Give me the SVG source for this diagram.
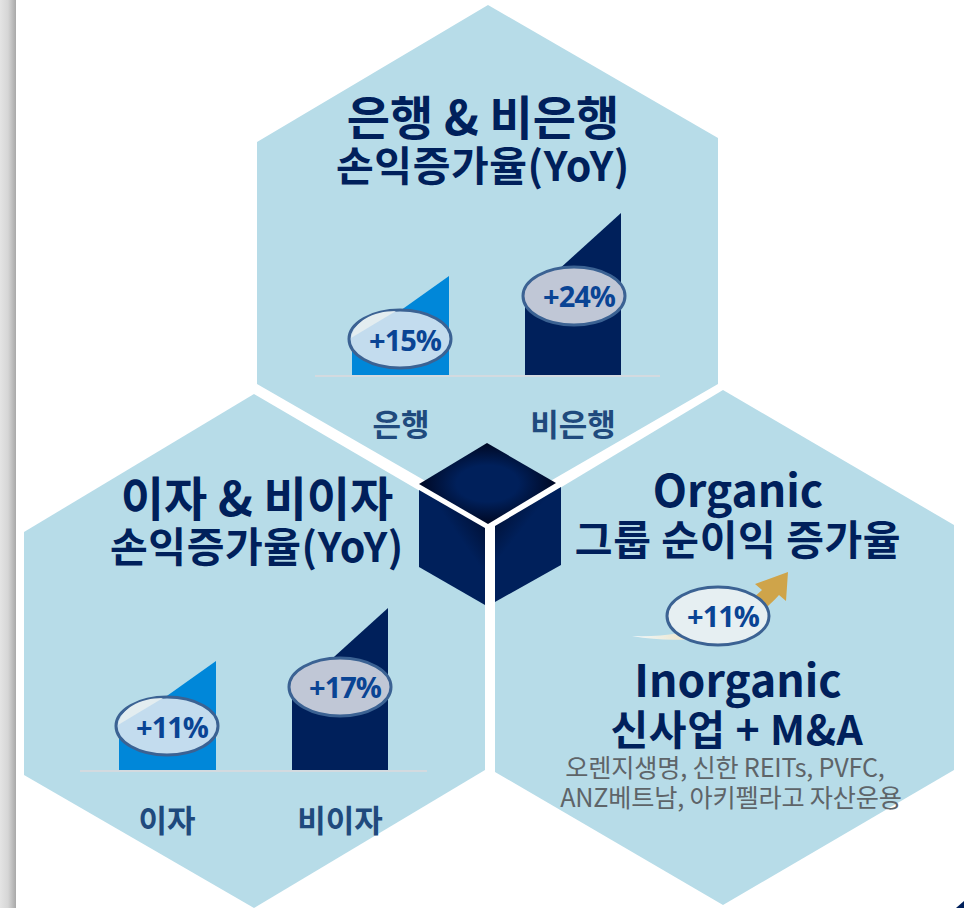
<svg xmlns="http://www.w3.org/2000/svg" width="964" height="908" viewBox="0 0 964 908">
<style>
.hex{fill:#b7dce8}
text{font-family:"Noto Sans CJK KR","Noto Sans",sans-serif;text-anchor:middle}
.h1{font-weight:700;fill:#00205b;font-size:47px}
.h2{font-weight:700;fill:#00205b;font-size:41px;letter-spacing:.6px}
.lat{font-size:44.5px}
.cat{font-weight:700;fill:#1f4a7d;font-size:31px}
.pct{font-family:"Open Sans","Noto Sans",sans-serif;font-weight:700;fill:#0a4494;font-size:29px;letter-spacing:-1px}
.pill{stroke:#3b6293;stroke-width:3}
.base{stroke:#d3dadf;stroke-width:2}
.navy{fill:#00205b}
.blue{fill:#0087d9}
.sub{fill:#5e6468;font-size:25.2px;letter-spacing:-.2px}
</style>
<defs>
<linearGradient id="side" x1="0" y1="0" x2="1" y2="0"><stop offset="0" stop-color="#e4e4e4"/><stop offset=".5" stop-color="#d6d6d6"/><stop offset="1" stop-color="#a8a8a8"/></linearGradient>
<radialGradient id="top" cx=".5" cy=".5" r=".5"><stop offset=".45" stop-color="#00205b"/><stop offset="1" stop-color="#000823"/></radialGradient>
<linearGradient id="lf" x1=".95" y1="0" x2=".5" y2=".55"><stop offset="0" stop-color="#000823"/><stop offset=".75" stop-color="#00205b"/></linearGradient>
<linearGradient id="rf" x1=".05" y1="0" x2=".45" y2=".55"><stop offset="0" stop-color="#000823"/><stop offset=".75" stop-color="#00205b"/></linearGradient>
<linearGradient id="arrow" gradientUnits="userSpaceOnUse" x1="632" y1="638" x2="788" y2="575"><stop offset="0" stop-color="#fff" stop-opacity=".8"/><stop offset=".45" stop-color="#e8d9ae"/><stop offset=".8" stop-color="#cfa44a"/></linearGradient>
</defs>
<rect width="964" height="908" fill="#fff"/>
<rect width="16" height="908" fill="url(#side)"/>
<g id="node-top"><polygon class="hex" points="488,5 718,138 718,384 488,517 257,384 257,142"/>
<text class="h1" x="483" y="135">은행 &amp; 비은행</text>
<text class="h2" x="483" y="181">손익증가율(YoY)</text>
<polygon class="blue" points="352,375 352,345 449,276 449,375"/>
<polygon class="navy" points="525,375 525,300 621,213 621,375"/>
<line class="base" x1="315" y1="376" x2="660" y2="376"/>
<ellipse class="pill" cx="400" cy="339" rx="51" ry="29" fill="#c3dcee"/>
<path d="M351 338C354 322 372 311 396 311Z" fill="#e3edf0"/>
<text class="pct" x="405" y="351">+15%</text>
<ellipse class="pill" cx="574" cy="296" rx="51" ry="29" fill="#c0c7d6"/>
<text class="pct" x="579" y="307">+24%</text>
<text class="cat" x="401" y="436">은행</text>
<text class="cat" x="573" y="436">비은행</text></g>
<g id="node-left"><polygon class="hex" points="254,394 485,529 485,770 254,908 24,775 24,532"/>
<text class="h1" x="257" y="516">이자 &amp; 비이자</text>
<text class="h2" x="257" y="562">손익증가율(YoY)</text>
<polygon class="blue" points="119,770 119,730 216,661 216,770"/>
<polygon class="navy" points="292,770 292,695 388,608 388,770"/>
<line class="base" x1="80" y1="771" x2="427" y2="771"/>
<ellipse class="pill" cx="167" cy="726" rx="51" ry="29" fill="#c3dcee"/>
<path d="M118 725C121 709 139 698 163 698Z" fill="#e3edf0"/>
<text class="pct" x="172" y="738">+11%</text>
<ellipse class="pill" cx="340" cy="687" rx="51" ry="29" fill="#c0c7d6"/>
<text class="pct" x="345" y="698">+17%</text>
<text class="cat" x="167" y="832">이자</text>
<text class="cat" x="340" y="832">비이자</text></g>
<g id="node-right"><polygon class="hex" points="723,390 954,525 954,770 723,905 495,772 495,527"/>
<text class="h1 lat" x="738" y="507">Organic</text>
<text class="h2" x="738" y="555">그룹 순이익 증가율</text>
<path d="M632 636C690 638 728 622 762 590L755 584L788 572L786 601L779 595C740 638 690 646 632 636Z" fill="url(#arrow)"/>
<ellipse class="pill" cx="718" cy="616" rx="51" ry="29" fill="#e6eff2"/>
<text class="pct" x="723" y="627">+11%</text>
<text class="h1 lat" x="738" y="697">Inorganic</text>
<text class="h2" x="737" y="745">신사업 + M&amp;A</text>
<text class="sub" x="725" y="777">오렌지생명, 신한 REITs, PVFC,</text>
<text class="sub" x="731" y="807">ANZ베트남, 아키펠라고 자산운용</text></g>
<g id="node-cube"><polygon points="487,443 556,483 488,524 419,484" fill="url(#top)"/>
<polygon points="419,490 485,528 485,605 419,567" fill="url(#lf)"/>
<polygon points="495,526 561,487 561,565 495,602" fill="url(#rf)"/></g>
<polygon id="corner" points="964,901 964,908 956,908" fill="#00205b"/>
</svg>
